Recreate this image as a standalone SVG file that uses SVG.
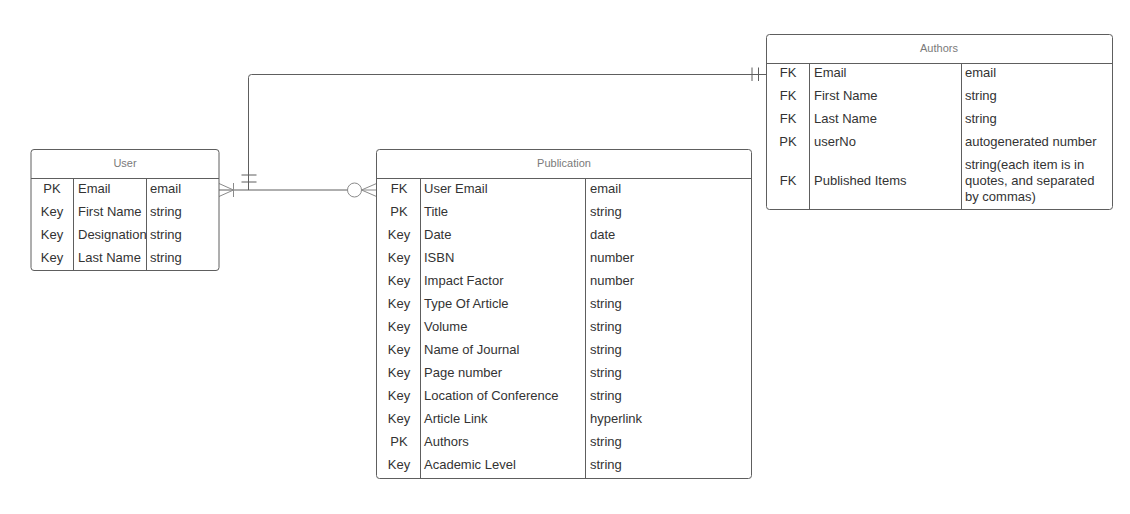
<svg xmlns="http://www.w3.org/2000/svg" width="1130" height="514" viewBox="0 0 1130 514">
<style>
.box{fill:#fff;stroke:#5e5e5e;stroke-width:1}
.ln{stroke:#5e5e5e;stroke-width:1;fill:none}
.cf{stroke:#8a8a8a;stroke-width:1;fill:none}
.hd{font-family:"Liberation Sans",Arial,sans-serif;font-size:11px;fill:#7a7a7a;text-anchor:middle}
.t{font-family:"Liberation Sans",Arial,sans-serif;font-size:13px;fill:#333}
.k{text-anchor:middle}
</style>
<rect width="1130" height="514" fill="#fff"/>
<g id="connectors">
  <path class="ln" d="M219 190 H347.5"/>
  <path class="ln" d="M248.5 190 V77.5 Q248.5 74.5 251.5 74.5 H766.5"/>
  <path class="cf" d="M219 183.5 L233.5 190 L219 196.5 M233.5 183 V197"/>
  <path class="ln" d="M241.5 175 H256.5 M241.5 182 H256.5"/>
  <path class="ln" d="M752 67.5 V81 M758.5 67.5 V81"/>
  <circle class="cf" cx="354.5" cy="190" r="7"/>
  <path class="cf" d="M376.5 183.5 L361.5 190 L376.5 196.5 M361.5 190 H376.5"/>
</g>
<g id="user">
  <rect class="box" x="31" y="149.5" width="188" height="121" rx="3"/>
  <path class="ln" d="M31 178.5 H219 M73.5 178.5 V270.5 M146.5 178.5 V270.5"/>
  <text class="hd" x="125" y="167">User</text>
  <g class="t">
    <text class="k" x="52" y="193">PK</text><text x="78" y="193">Email</text><text x="150" y="193">email</text>
    <text class="k" x="52" y="216">Key</text><text x="78" y="216">First Name</text><text x="150" y="216">string</text>
    <text class="k" x="52" y="239">Key</text><text x="78" y="239">Designation</text><text x="150" y="239">string</text>
    <text class="k" x="52" y="262">Key</text><text x="78" y="262">Last Name</text><text x="150" y="262">string</text>
  </g>
</g>
<g id="publication">
  <rect class="box" x="376.5" y="149.5" width="375" height="329" rx="3"/>
  <path class="ln" d="M376.5 178.5 H751.5 M420.5 178.5 V478.5 M585.5 178.5 V478.5"/>
  <text class="hd" x="564" y="167">Publication</text>
  <g class="t">
    <text class="k" x="399" y="193">FK</text><text x="424" y="193">User Email</text><text x="590" y="193">email</text>
    <text class="k" x="399" y="216">PK</text><text x="424" y="216">Title</text><text x="590" y="216">string</text>
    <text class="k" x="399" y="239">Key</text><text x="424" y="239">Date</text><text x="590" y="239">date</text>
    <text class="k" x="399" y="262">Key</text><text x="424" y="262">ISBN</text><text x="590" y="262">number</text>
    <text class="k" x="399" y="285">Key</text><text x="424" y="285">Impact Factor</text><text x="590" y="285">number</text>
    <text class="k" x="399" y="308">Key</text><text x="424" y="308">Type Of Article</text><text x="590" y="308">string</text>
    <text class="k" x="399" y="331">Key</text><text x="424" y="331">Volume</text><text x="590" y="331">string</text>
    <text class="k" x="399" y="354">Key</text><text x="424" y="354">Name of Journal</text><text x="590" y="354">string</text>
    <text class="k" x="399" y="377">Key</text><text x="424" y="377">Page number</text><text x="590" y="377">string</text>
    <text class="k" x="399" y="400">Key</text><text x="424" y="400">Location of Conference</text><text x="590" y="400">string</text>
    <text class="k" x="399" y="423">Key</text><text x="424" y="423">Article Link</text><text x="590" y="423">hyperlink</text>
    <text class="k" x="399" y="446">PK</text><text x="424" y="446">Authors</text><text x="590" y="446">string</text>
    <text class="k" x="399" y="469">Key</text><text x="424" y="469">Academic Level</text><text x="590" y="469">string</text>
  </g>
</g>
<g id="authors">
  <rect class="box" x="766.5" y="34.5" width="346" height="175" rx="3"/>
  <path class="ln" d="M766.5 63.5 H1112.5 M809.5 63.5 V209.5 M961.5 63.5 V209.5"/>
  <text class="hd" x="939" y="52">Authors</text>
  <g class="t">
    <text class="k" x="788" y="77">FK</text><text x="814" y="77">Email</text><text x="965" y="77">email</text>
    <text class="k" x="788" y="100">FK</text><text x="814" y="100">First Name</text><text x="965" y="100">string</text>
    <text class="k" x="788" y="123">FK</text><text x="814" y="123">Last Name</text><text x="965" y="123">string</text>
    <text class="k" x="788" y="146">PK</text><text x="814" y="146">userNo</text><text x="965" y="146">autogenerated number</text>
    <text class="k" x="788" y="185">FK</text><text x="814" y="185">Published Items</text>
    <text x="965" y="169">string(each item is in</text>
    <text x="965" y="185">quotes, and separated</text>
    <text x="965" y="201">by commas)</text>
  </g>
</g>
</svg>
